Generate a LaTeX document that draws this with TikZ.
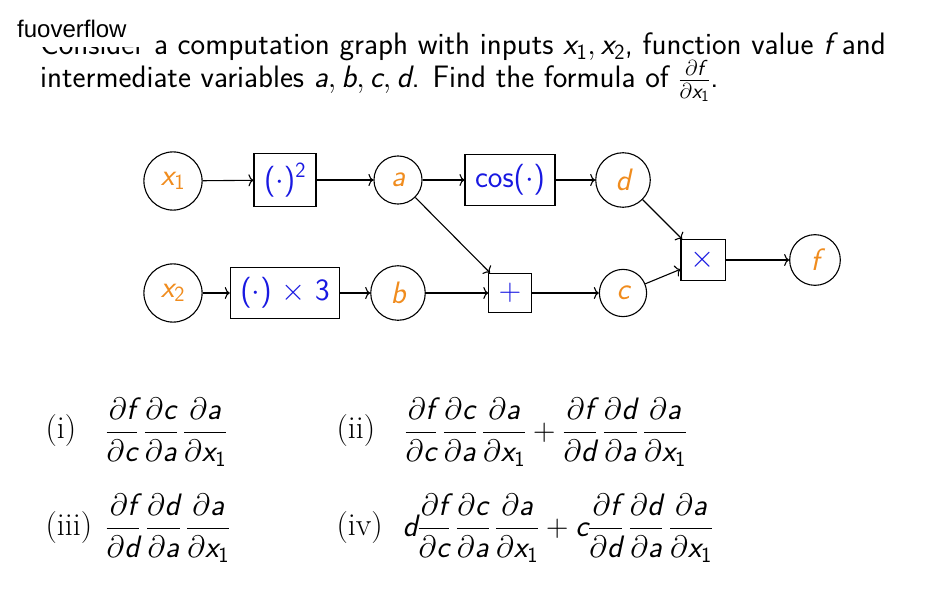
\RequirePackage{fix-cm}
\documentclass[tikz,border=0pt]{standalone}
\usepackage{amsmath}
\usepackage{fontspec}
\usetikzlibrary{arrows.meta}
\newfontfamily\wmfont{Liberation Sans}
\DeclareMathAlphabet{\mathsfit}{TU}{lmss}{m}{sl}
\DeclareMathAlphabet{\mathsfup}{TU}{lmss}{m}{n}
\definecolor{varorange}{RGB}{240,140,30}
\definecolor{opblue}{RGB}{25,25,225}
\newcommand\mv[1]{\mathsfit{#1}}
\newcommand\xone{\mathsfit{x}_{\mathsfup{1}}}
\newcommand\xtwo{\mathsfit{x}_{\mathsfup{2}}}
\newcommand\pd[2]{\dfrac{\partial #1}{\partial #2}}
\newcommand\fg{\mskip 3mu}
\newcommand\dotp{\textsf{(}$\cdot$\textsf{)}}
\begin{document}
\begin{tikzpicture}[x=1pt,y=-1pt,
  every node/.style={font=\fontsize{31}{36}\selectfont\sffamily},
  var/.style={circle,draw,line width=1.1pt,text=varorange,inner sep=10pt},
  op/.style={rectangle,draw,line width=1.1pt,text=opblue,inner sep=10pt},
  link/.style={-{To[length=5pt,width=12pt]},line width=1.1pt},
  lbl/.style={font=\fontsize{32}{36}\selectfont\rmfamily,anchor=west},
  frm/.style={anchor=west}]
\useasboundingbox (0,0) rectangle (940,591);
% title
\node[anchor=base west,inner sep=0] (t1) at (40,55)
  {Consider a computation graph with inputs $\xone, \xtwo$, function value $\mv f$ and};
\node[anchor=base west,inner sep=0] (t2) at (40,88)
  {intermediate variables $\mv a, \mv b, \mv c, \mv d$. Find the formula of $\frac{\partial \mv f}{\partial \xone}$.};
% watermark
\fill[white] (14,12) rectangle (146,47);
\node[anchor=base west,inner sep=0,font=\wmfont\fontsize{24}{28}\selectfont] (wm) at (17,37.5) {fuoverflow};
% graph
\node[var] (x1) at (173,181) {$\xone$};
\node[op]  (sq) at (285,180) {\dotp\textsuperscript{2}};
\node[var] (a)  at (398,180) {$\mv a$};
\node[op]  (cs) at (510,180) {cos\dotp};
\node[var] (d)  at (623,180) {$\mv d$};
\node[op]  (tm) at (703,260) {$\times$};
\node[var] (f)  at (815,260) {$\mv f$};
\node[var] (x2) at (173,293) {$\xtwo$};
\node[op]  (t3) at (285,293) {\dotp\ $\times$ 3};
\node[var] (b)  at (398,293) {$\mv b$};
\node[op]  (pl) at (510,293) {$+$};
\node[var] (c)  at (623,293) {$\mv c$};
\draw[link] (x1) -- (sq);
\draw[link] (sq) -- (a);
\draw[link] (a) -- (cs);
\draw[link] (cs) -- (d);
\draw[link] (d) -- (tm);
\draw[link] (tm) -- (f);
\draw[link] (a) -- (pl);
\draw[link] (x2) -- (t3);
\draw[link] (t3) -- (b);
\draw[link] (b) -- (pl);
\draw[link] (pl) -- (c);
\draw[link] (c) -- (tm);
% answers
\node[lbl] (l1) at (42,431) {(i)};
\node[frm] (e1) at (102,432) {$\pd{\mv f}{\mv c}\fg\pd{\mv c}{\mv a}\fg\pd{\mv a}{\xone}$};
\node[lbl] (l2) at (333,431) {(ii)};
\node[frm] (e2) at (401,432) {$\pd{\mv f}{\mv c}\fg\pd{\mv c}{\mv a}\fg\pd{\mv a}{\xone}+\pd{\mv f}{\mv d}\fg\pd{\mv d}{\mv a}\fg\pd{\mv a}{\xone}$};
\node[lbl] (l3) at (42,528) {(iii)};
\node[frm] (e3) at (102,528) {$\pd{\mv f}{\mv d}\fg\pd{\mv d}{\mv a}\fg\pd{\mv a}{\xone}$};
\node[lbl] (l4) at (333,528) {(iv)};
\node[frm] (e4) at (399,528) {$\mv d\pd{\mv f}{\mv c}\fg\pd{\mv c}{\mv a}\fg\pd{\mv a}{\xone}+\mv c\pd{\mv f}{\mv d}\fg\pd{\mv d}{\mv a}\fg\pd{\mv a}{\xone}$};
\end{tikzpicture}
\end{document}
